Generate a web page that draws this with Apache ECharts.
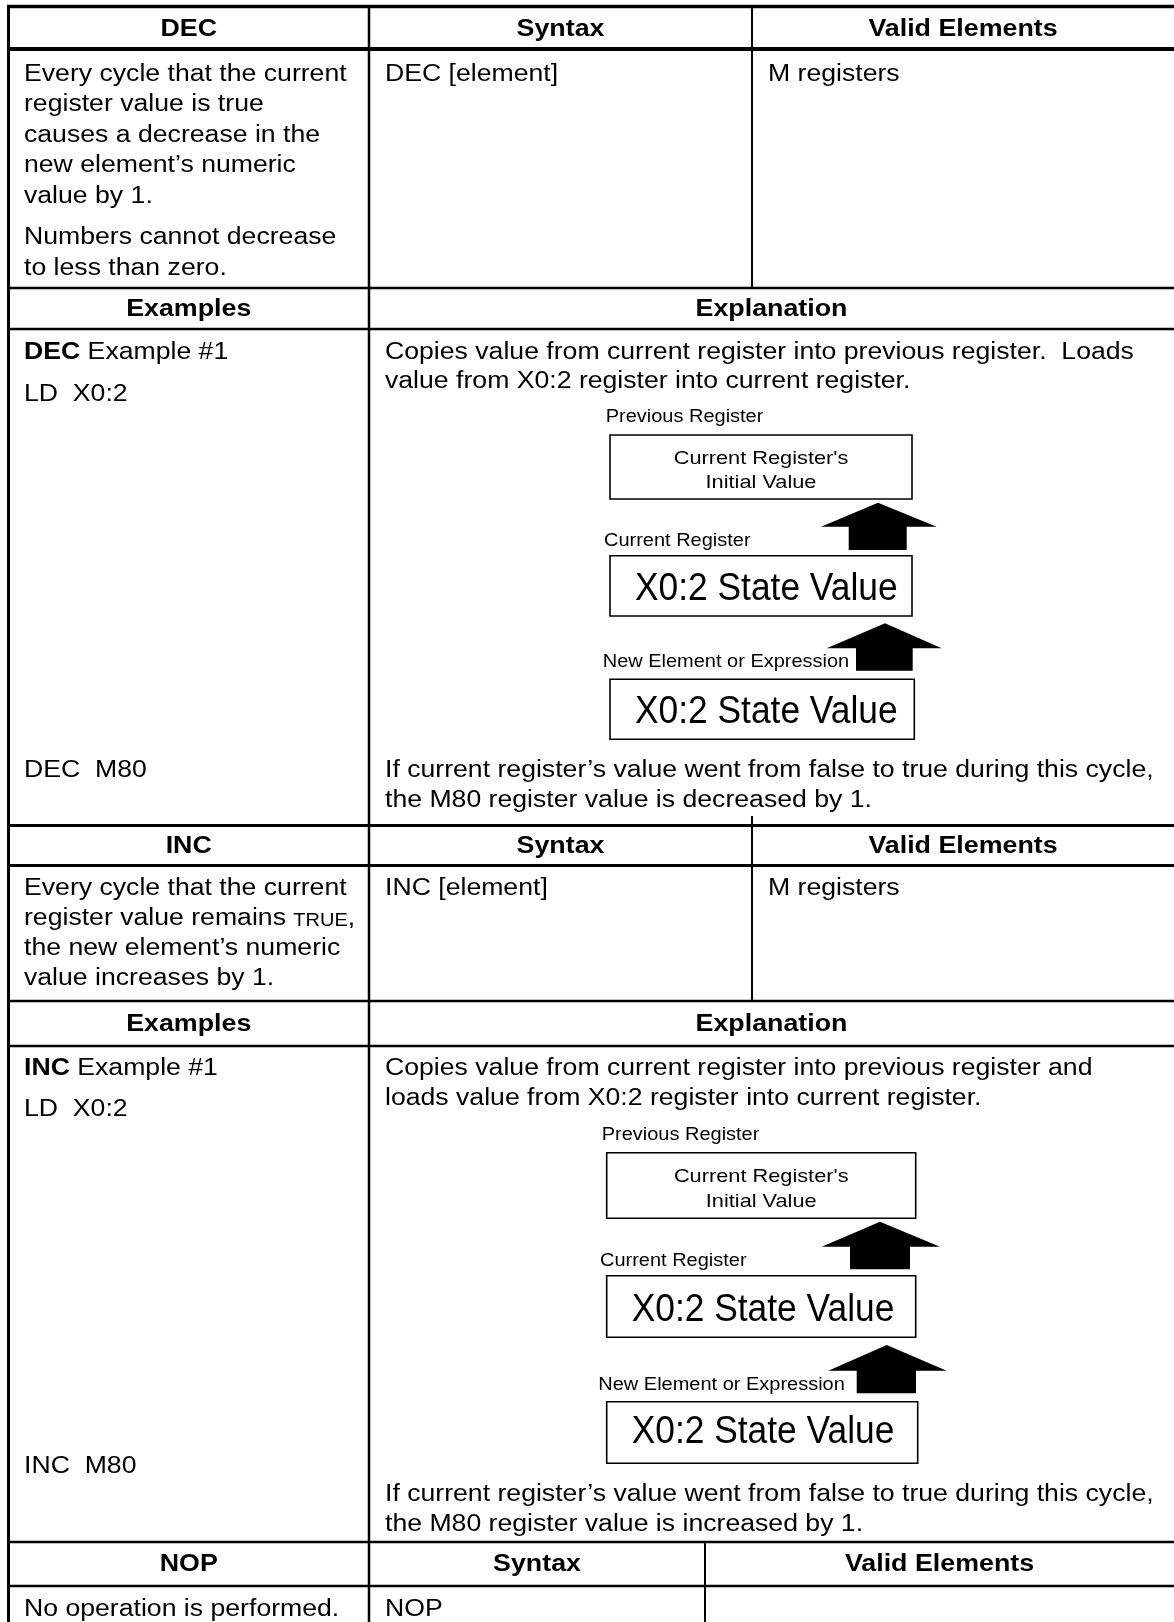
<!DOCTYPE html>
<html>
<head>
<meta charset="utf-8">
<script src="https://cdn.jsdelivr.net/npm/echarts/dist/echarts.min.js"></script>
<style>
html,body{margin:0;padding:0;background:#fff;}
#chart{width:1174px;height:1622px;}
</style>
</head>
<body>
<div id="chart"></div>
<script>
// ---------------- content (text only) ----------------
const decHeader = ['DEC', 'Syntax', 'Valid Elements'];
const decDescription = [
  ['Every cycle that the current', 'register value is true', 'causes a decrease in the', 'new element\u2019s numeric', 'value by 1.'],
  ['Numbers cannot decrease', 'to less than zero.']
];
const decSyntax = 'DEC [element]';
const decValid = 'M registers';
const exampleHeader = ['Examples', 'Explanation'];
const decExampleTitle = ['DEC', ' Example #1'];
const decCode = ['LD  X0:2', 'DEC  M80'];
const decExplainLoad = ['Copies value from current register into previous register.  Loads', 'value from X0:2 register into current register.'];
const decExplainResult = ['If current register\u2019s value went from false to true during this cycle,', 'the M80 register value is decreased by 1.'];

const incHeader = ['INC', 'Syntax', 'Valid Elements'];
const incDescription = ['Every cycle that the current', ['register value remains ', 'TRUE', ','], 'the new element\u2019s numeric', 'value increases by 1.'];
const incSyntax = 'INC [element]';
const incValid = 'M registers';
const incExampleTitle = ['INC', ' Example #1'];
const incCode = ['LD  X0:2', 'INC  M80'];
const incExplainLoad = ['Copies value from current register into previous register and', 'loads value from X0:2 register into current register.'];
const incExplainResult = ['If current register\u2019s value went from false to true during this cycle,', 'the M80 register value is increased by 1.'];

const nopHeader = ['NOP', 'Syntax', 'Valid Elements'];
const nopDescription = 'No operation is performed.';
const nopSyntax = 'NOP';

const diagramLabels = ['Previous Register', 'Current Register', 'New Element or Expression'];
const diagramInitial = ['Current Register\'s', 'Initial Value'];
const diagramState = 'X0:2 State Value';

// ---------------- drawing helpers ----------------
const FONT_FAMILY = '"Liberation Sans", Arial, Helvetica, sans-serif';
const BODY_FS = 23.3, BODY_SX = 1.143;
const HEAD_FS = 23, HEAD_SX = 1.165;
const MID = 0.33;
const graphics = [];
const mctx = document.createElement('canvas').getContext('2d');
function textWidth(str, fs, bold) {
  mctx.font = (bold ? 'bold ' : '') + fs + 'px ' + FONT_FAMILY;
  return mctx.measureText(str).width;
}
function addText(str, x, base, o) {
  o = o || {};
  const fs = o.fs || BODY_FS, sx = o.sx || BODY_SX;
  graphics.push({
    type: 'text', x: x, y: base - MID * fs, scaleX: sx, silent: true, z: 10,
    style: { text: str, fontSize: fs, fontFamily: FONT_FAMILY, fontWeight: o.bold ? 'bold' : 'normal',
      fill: '#000', align: o.align || 'left', verticalAlign: 'middle' }
  });
}
function addSeq(parts, x, base) {
  let cx = x;
  parts.forEach(function (p) {
    addText(p.t, cx, base, p);
    cx += textWidth(p.t, p.fs || BODY_FS, p.bold) * (p.sx || BODY_SX);
  });
}
function hline(y, x1, x2, w) {
  graphics.push({ type: 'line', silent: true, z: 5, shape: { x1: x1, y1: y, x2: x2, y2: y }, style: { stroke: '#000', lineWidth: w } });
}
function vline(x, y1, y2, w) {
  graphics.push({ type: 'line', silent: true, z: 5, shape: { x1: x, y1: y1, x2: x, y2: y2 }, style: { stroke: '#000', lineWidth: w } });
}
function box(x1, y1, x2, y2) {
  graphics.push({ type: 'rect', silent: true, z: 6, shape: { x: x1, y: y1, width: x2 - x1, height: y2 - y1 }, style: { fill: '#fff', stroke: '#000', lineWidth: 1.6 } });
}
function arrow(tipX, tipY, baseY, headL, headR, shaftL, shaftR, bottom) {
  graphics.push({ type: 'polygon', silent: true, z: 7, shape: { points: [
    [tipX, tipY], [headR, baseY], [shaftR, baseY], [shaftR, bottom], [shaftL, bottom], [shaftL, baseY], [headL, baseY]
  ] }, style: { fill: '#000' } });
}
function diagram(L) {
  const LAB = { fs: 18, sx: 1.11 };
  const BIG = { fs: 38, sx: 0.93 };
  const INI = { fs: 18.6, sx: 1.17, align: 'center' };
  addText(diagramLabels[0], L.lab1x, L.lab1b, LAB);
  box(L.bx1, L.b1y1, L.bx2a, L.b1y2);
  addText(diagramInitial[0], (L.bx1 + L.bx2a) / 2, L.init1b, INI);
  addText(diagramInitial[1], (L.bx1 + L.bx2a) / 2, L.init2b, INI);
  arrow.apply(null, L.arrow1);
  addText(diagramLabels[1], L.lab2x, L.lab2b, LAB);
  box(L.bx1, L.b2y1, L.bx2a, L.b2y2);
  addText(diagramState, L.stx, L.st1b, BIG);
  arrow.apply(null, L.arrow2);
  addText(diagramLabels[2], L.lab3x, L.lab3b, LAB);
  box(L.bx1, L.b3y1, L.bx2b, L.b3y2);
  addText(diagramState, L.stx, L.st2b, BIG);
}

// ---------------- table layout ----------------
const XL = 8.5, XC1 = 369, XC2 = 752, XC2N = 705, XR = 1174;
const TX1 = 24, TX2 = 385, TX3 = 768;

// grid lines
hline(6.5, XL - 1.5, XR, 3.5);
hline(49, XL, XR, 4);
hline(288, XL, XR, 2.5);
hline(329, XL, XR, 2.5);
hline(825.5, XL, XR, 3);
hline(865.5, XL, XR, 3);
hline(1001, XL, XR, 2.5);
hline(1046, XL, XR, 2.5);
hline(1542, XL, XR, 2.5);
hline(1586, XL, XR, 2.5);
vline(XL, 5, 1622, 3);
vline(XC1, 6.5, 1622, 2.5);
vline(XC2, 6.5, 288, 2);
vline(XC2, 816, 1001, 2);
vline(XC2N, 1542, 1622, 2);

const HB = { bold: true, fs: HEAD_FS, sx: HEAD_SX, align: 'center' };
// DEC section
addText(decHeader[0], (XL + XC1) / 2, 37, HB);
addText(decHeader[1], (XC1 + XC2) / 2, 37, HB);
addText(decHeader[2], (XC2 + XR) / 2, 37, HB);
const decBase = [82, 112.5, 143, 173.5, 204];
decDescription[0].forEach(function (s, i) { addText(s, TX1, decBase[i]); });
decDescription[1].forEach(function (s, i) { addText(s, TX1, 245 + i * 30.8); });
addText(decSyntax, TX2, 82);
addText(decValid, TX3, 82);
addText(exampleHeader[0], (XL + XC1) / 2, 317, HB);
addText(exampleHeader[1], (XC1 + XR) / 2, 317, HB);
addSeq([{ t: decExampleTitle[0], bold: true }, { t: decExampleTitle[1] }], TX1, 360);
addText(decCode[0], TX1, 402);
addText(decExplainLoad[0], TX2, 360);
addText(decExplainLoad[1], TX2, 389.5);
diagram({
  lab1x: 605.7, lab1b: 423,
  bx1: 610, bx2a: 912, bx2b: 914.3,
  b1y1: 435, b1y2: 499, init1b: 465, init2b: 489.3,
  arrow1: [878, 502.7, 526.7, 821, 936.7, 848.7, 906.7, 550],
  lab2x: 604, lab2b: 546.7,
  b2y1: 555.7, b2y2: 616, stx: 635, st1b: 601.7,
  arrow2: [885, 623.3, 648.3, 826.7, 941.7, 856, 912.7, 670.7],
  lab3x: 602.7, lab3b: 668.3,
  b3y1: 679.3, b3y2: 739.3, st2b: 725
});
addText(decCode[1], TX1, 778);
addText(decExplainResult[0], TX2, 778);
addText(decExplainResult[1], TX2, 808);

// INC section
addText(incHeader[0], (XL + XC1) / 2, 854, HB);
addText(incHeader[1], (XC1 + XC2) / 2, 854, HB);
addText(incHeader[2], (XC2 + XR) / 2, 854, HB);
const incBase = [896.7, 926.7, 956.7, 986.7];
incDescription.forEach(function (s, i) {
  if (Array.isArray(s)) {
    addSeq([{ t: s[0] }, { t: s[1], fs: 17.5 }, { t: s[2] }], TX1, incBase[i]);
  } else {
    addText(s, TX1, incBase[i]);
  }
});
addText(incSyntax, TX2, 896.7);
addText(incValid, TX3, 896.7);
addText(exampleHeader[0], (XL + XC1) / 2, 1032, HB);
addText(exampleHeader[1], (XC1 + XR) / 2, 1032, HB);
addSeq([{ t: incExampleTitle[0], bold: true }, { t: incExampleTitle[1] }], TX1, 1076);
addText(incCode[0], TX1, 1117);
addText(incExplainLoad[0], TX2, 1076.5);
addText(incExplainLoad[1], TX2, 1106.7);
diagram({
  lab1x: 601.7, lab1b: 1141,
  bx1: 606.7, bx2a: 915.7, bx2b: 917.7,
  b1y1: 1152.7, b1y2: 1218.3, init1b: 1183.3, init2b: 1207.7,
  arrow1: [880, 1221.7, 1246.7, 821.7, 940, 850, 910, 1269.3],
  lab2x: 600, lab2b: 1266.7,
  b2y1: 1275.7, b2y2: 1337.3, stx: 631.7, st1b: 1322.7,
  arrow2: [886.7, 1345, 1370.7, 828.3, 946.7, 856.7, 916, 1393.3],
  lab3x: 598.3, lab3b: 1390.7,
  b3y1: 1401.7, b3y2: 1463.3, st2b: 1445
});
addText(incCode[1], TX1, 1474);
addText(incExplainResult[0], TX2, 1502);
addText(incExplainResult[1], TX2, 1532);

// NOP section
addText(nopHeader[0], (XL + XC1) / 2, 1572, HB);
addText(nopHeader[1], (XC1 + XC2N) / 2, 1572, HB);
addText(nopHeader[2], (XC2N + XR) / 2, 1572, HB);
addText(nopDescription, TX1, 1617);
addText(nopSyntax, TX2, 1617);

const chart = echarts.init(document.getElementById('chart'), null, { renderer: 'canvas' });
chart.setOption({
  backgroundColor: '#ffffff',
  animation: false,
  graphic: { elements: graphics }
});
</script>
</body>
</html>
